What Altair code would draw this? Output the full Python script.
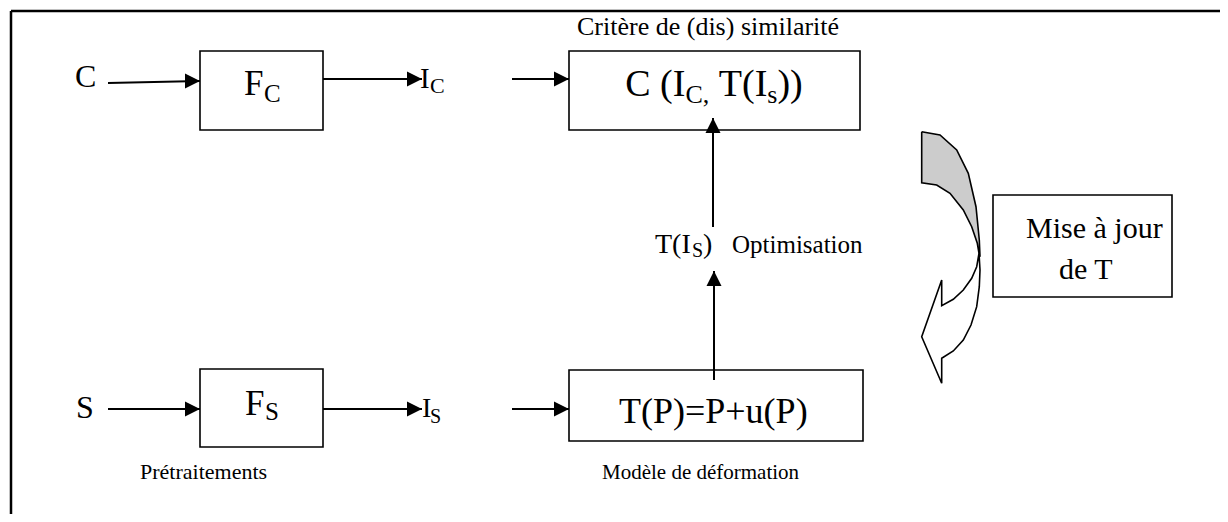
import altair as alt
import pandas as pd

W, H = 1212, 506
FONT = "Liberation Serif"

# ---------------- boxes (pixel coordinates of the reference) ----------------
box_x1 = [200, 569, 200, 569, 993]
box_x2 = [323, 860, 323, 863, 1172]
box_y1 = [51, 51, 369, 370, 195]
box_y2 = [130, 130, 447, 441, 297]

# ---------------- straight arrows ----------------
arr_x1 = [108, 323, 512, 713, 714, 108, 323, 512]
arr_y1 = [83, 79, 79, 227, 380, 409, 409, 409]
arr_x2 = [200, 422, 569, 713, 714, 200, 422, 569]
arr_y2 = [81, 79, 79, 118, 271, 409, 409, 409]
arr_dir = ["right", "right", "right", "up", "up", "right", "right", "right"]

# ---------------- outer frame ----------------
frame_x1 = [11, 11]
frame_y1 = [11, 11]
frame_x2 = [1230, 11]
frame_y2 = [11, 530]

# ---------------- curved arrow (two filled outlines) ----------------
gray_x = [921.7, 940, 956.7, 968.3, 976, 979.3, 980, 979, 977.3, 971.7, 963.3, 950, 936.7, 921.7, 921.7]
gray_y = [131.7, 135, 150, 173.3, 206.7, 240, 256.7, 253.3, 243.3, 226.7, 210, 193.3, 185, 182.7, 131.7]
white_x = [979, 980, 979.3, 976.7, 971, 963.3, 953.3, 941.7, 941.7, 921.7, 941.7, 941.7, 953.3, 963.3, 971.7, 976.7, 979]
white_y = [253.3, 270, 286.7, 306.7, 325, 340, 351, 358.3, 383.3, 336.7, 280, 305.7, 299.3, 290, 278.3, 266.7, 253.3]

# ---------------- texts (left x, baseline y, font size) ----------------
txt = ["Critère de (dis) similarité",
       "C", "F", "C", "I", "C",
       "C (I", "C,", "T(I", "s", "))",
       "T(I", "S", ")", "Optimisation",
       "Mise à jour", "de T",
       "S", "F", "S", "I", "S",
       "T(P)=P+u(P)",
       "Prétraitements", "Modèle de déformation"]
txt_x = [577,
         75, 244, 264, 420, 430,
         0, 0, 0, 0, 0,
         655, 692, 703, 732,
         1026, 1059,
         76, 245, 265, 422, 430,
         619,
         140, 602]
txt_y = [35,
         87, 95, 102, 88, 93,
         96, 103, 96, 103, 96,
         253, 257, 253, 253,
         238, 279,
         418, 415, 420, 417, 423,
         423,
         479, 479]
txt_size = [26,
            32, 35, 25, 29, 22,
            38, 26, 38, 26, 38,
            28, 20, 28, 25,
            30, 30,
            32, 35, 25, 28, 20,
            36,
            22, 21]

# chain the pieces of "C (I_C, T(I_s))" (Times advance widths), centred in its box;
# the space after the comma is added as an offset (SVG drops leading spaces)
adv = {"C": .667, " ": .25, "(": .333, "I": .333, ",": .25, "T": .611, "s": .389, ")": .333}
gaps = [0, 0, 0.25 * 38, 0, 0]
widths = [sum(adv[c] for c in txt[i]) * txt_size[i] for i in range(6, 11)]
cx = 714 - (sum(widths) + sum(gaps)) / 2
for k, i in enumerate(range(6, 11)):
    cx += gaps[k]
    txt_x[i] = cx
    cx += widths[k]

# ---------------------------------------------------------------------------
xs = alt.Scale(domain=[8, 8 + W], nice=False, zero=False)
ys = alt.Scale(domain=[8, 8 + H], nice=False, zero=False, reverse=True)

boxes = pd.DataFrame({"x": box_x1, "x2": box_x2, "y": box_y1, "y2": box_y2})
arrows = pd.DataFrame({"x": arr_x1, "y": arr_y1, "x2": arr_x2, "y2": arr_y2, "dir": arr_dir})
frame = pd.DataFrame({"x": frame_x1, "y": frame_y1, "x2": frame_x2, "y2": frame_y2})
gray = pd.DataFrame({"x": gray_x, "y": gray_y, "o": list(range(len(gray_x)))})
white = pd.DataFrame({"x": white_x, "y": white_y, "o": list(range(len(white_x)))})
texts = pd.DataFrame({"t": txt, "x": txt_x, "y": txt_y, "s": txt_size})

X = lambda f="x": alt.X(f"{f}:Q", scale=xs, axis=None)
Y = lambda f="y": alt.Y(f"{f}:Q", scale=ys, axis=None)

frame_l = alt.Chart(frame).mark_rule(color="black", strokeWidth=2.5).encode(
    x=X(), y=Y(), x2="x2:Q", y2="y2:Q")

box_l = alt.Chart(boxes).mark_rect(fillOpacity=0, stroke="black", strokeWidth=1.6).encode(
    x=X(), y=Y(), x2="x2:Q", y2="y2:Q")

line_l = alt.Chart(arrows).mark_rule(color="black", strokeWidth=2).encode(
    x=X(), y=Y(), x2="x2:Q", y2="y2:Q")

head_l = alt.Chart(arrows).mark_point(filled=True, color="black", opacity=1, size=225, strokeWidth=0).encode(
    x=X("x2"), y=Y("y2"),
    shape=alt.Shape("dir:N", legend=None,
                    scale=alt.Scale(domain=["right", "up"],
                                    range=["M0,0L-2,-1L-2,1Z", "M0,0L-1,2L1,2Z"])))

gray_l = alt.Chart(gray).mark_line(fill="#cccccc", stroke="black", strokeWidth=1.6).encode(
    x=X(), y=Y(), order="o:Q")
white_l = alt.Chart(white).mark_line(fill="white", stroke="black", strokeWidth=1.6).encode(
    x=X(), y=Y(), order="o:Q")

text_l = alt.Chart(texts).mark_text(align="left", baseline="alphabetic", font=FONT, color="black").encode(
    x=X(), y=Y(), text="t:N", size=alt.Size("s:Q", scale=None))

chart = alt.layer(frame_l, box_l, line_l, head_l, gray_l, white_l, text_l).properties(
    width=W, height=H, padding=0,
    autosize=alt.AutoSizeParams(type="none"),
    background="white",
).configure_view(stroke=None)

chart.save("out.html", embed_options={"renderer": "svg", "actions": False})
